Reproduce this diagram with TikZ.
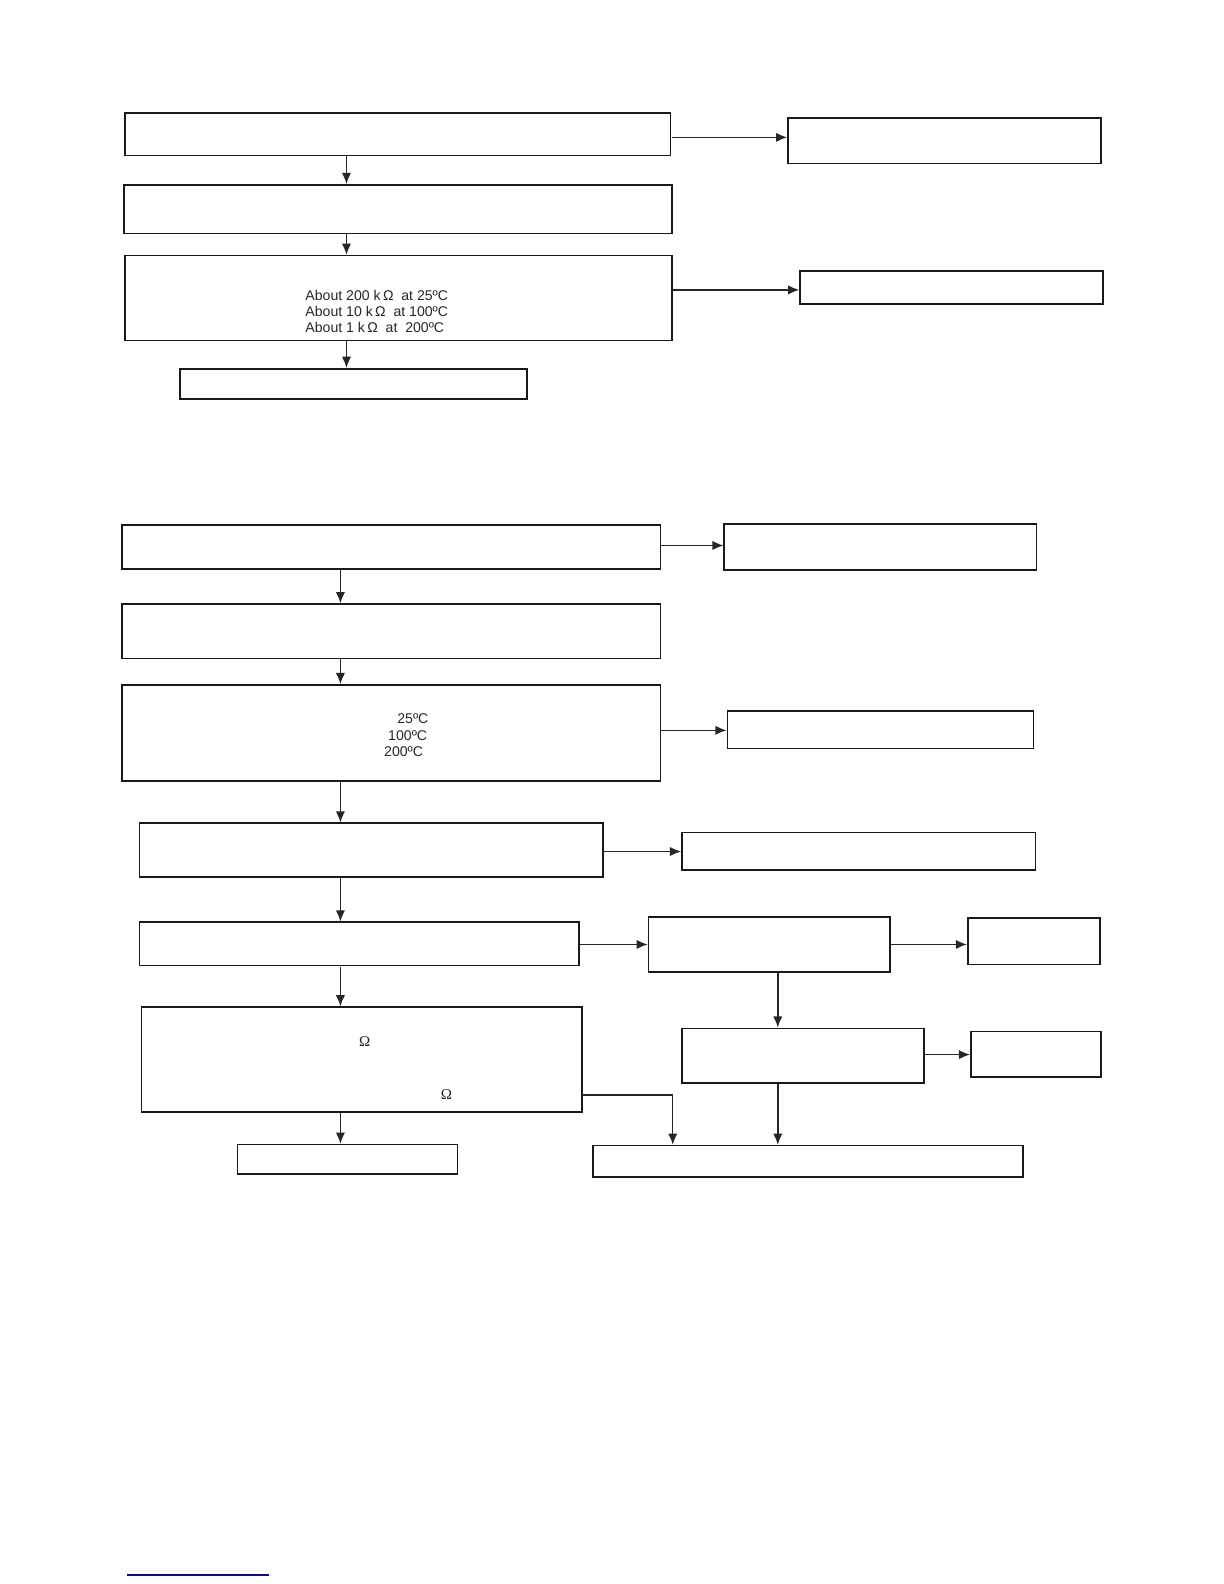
\documentclass[tikz,border=0pt]{standalone}
\usepackage{fontspec}
\setmainfont{Liberation Sans}
\newfontfamily\omegafont{Liberation Serif}
\usetikzlibrary{fit,arrows.meta}
\tikzset{
  box/.style={draw=black!90, line width=0.8pt, rectangle, inner sep=0pt},
  arr/.style={draw=black!85, line width=0.7pt, -{Latex[length=5.6pt,width=4.6pt]}},
  txt/.style={inner sep=0pt, anchor=west, font=\fontsize{7.05}{8}\selectfont, text=black!85},
  om/.style={inner sep=0pt, font=\omegafont\fontsize{7.5}{8}\selectfont, text=black!85},
}
\begin{document}
\begin{tikzpicture}[x=0.5pt,y=-0.5pt]
\useasboundingbox (0,0) rectangle (1224,1584);
\begin{scope}[scale=1.01]
% ---------- upper chart ----------
\node[box, fit={(124,112) (664,154)}] (B1) {};
\node[box, fit={(780,117) (1090,162)}] (R1) {};
\node[box, fit={(123,183) (665,231)}] (B2) {};
\node[box, fit={(124,253) (665,337)}] (B3) {};
\node[box, fit={(792,268) (1092,301)}] (R3) {};
\node[box, fit={(178,365) (522,395)}] (B4) {};
\node[txt] (t1) at (302,293) {About 200 k\,Ω\ \ at 25ºC};
\node[txt] (t2) at (302,308.5) {About 10 k\,Ω\ \ at 100ºC};
\node[txt] (t3) at (302,324) {About 1 k\,Ω\ \ at\ \ 200ºC};
\coordinate (ax) at (343,0);
\draw[arr] (B1.south -| ax) -- (B2.north -| ax);
\draw[arr] (B2.south -| ax) -- (B3.north -| ax);
\draw[arr] (B3.south -| ax) -- (B4.north -| ax);
\coordinate (y1) at (0,136);
\draw[arr] (B1.east |- y1) -- (R1.west |- y1);
\coordinate (y3) at (0,287);
\draw[arr] (B3.east |- y3) -- (R3.west |- y3);
% ---------- lower chart ----------
\node[box, fit={(121,520) (654,563)}] (C1) {};
\node[box, fit={(717,519) (1026,564)}] (RC1) {};
\node[box, fit={(121,598) (654,652)}] (C2) {};
\node[box, fit={(121,678) (654,773)}] (C3) {};
\node[box, fit={(720,704) (1023,741)}] (RC3) {};
\node[box, fit={(138,815) (597,868)}] (C4) {};
\node[box, fit={(675,824) (1025,861)}] (RC4) {};
\node[box, fit={(138,913) (573,956)}] (C5) {};
\node[box, fit={(642,908) (881,962)}] (D1) {};
\node[box, fit={(958,909) (1089,955)}] (E1) {};
\node[box, fit={(675,1018) (915,1072)}] (D2) {};
\node[box, fit={(961,1021) (1090,1066)}] (E2) {};
\node[box, fit={(140,997) (576,1101)}] (C6) {};
\node[box, fit={(235,1133) (453,1162)}] (C7) {};
\node[box, fit={(587,1134) (1013,1165)}] (F) {};
\node[txt] (c1) at (393,712) {25ºC};
\node[txt] (c2) at (384,728) {100ºC};
\node[txt] (c3) at (380,744) {200ºC};
\node[om] (o1) at (361,1031) {Ω};
\node[om] (o2) at (442,1084) {Ω};
\coordinate (bx) at (337,0);
\draw[arr] (C1.south -| bx) -- (C2.north -| bx);
\draw[arr] (C2.south -| bx) -- (C3.north -| bx);
\draw[arr] (C3.south -| bx) -- (C4.north -| bx);
\draw[arr] (C4.south -| bx) -- (C5.north -| bx);
\draw[arr] (C5.south -| bx) -- (C6.north -| bx);
\draw[arr] (C6.south -| bx) -- (C7.north -| bx);
\coordinate (z1) at (0,540);
\draw[arr] (C1.east |- z1) -- (RC1.west |- z1);
\coordinate (z3) at (0,723);
\draw[arr] (C3.east |- z3) -- (RC3.west |- z3);
\coordinate (z4) at (0,843);
\draw[arr] (C4.east |- z4) -- (RC4.west |- z4);
\coordinate (z5) at (0,935);
\draw[arr] (C5.east |- z5) -- (D1.west |- z5);
\draw[arr] (D1.east |- z5) -- (E1.west |- z5);
\coordinate (z6) at (0,1044);
\draw[arr] (D2.east |- z6) -- (E2.west |- z6);
\coordinate (dx) at (770,0);
\draw[arr] (D1.south -| dx) -- (D2.north -| dx);
\draw[arr] (D2.south -| dx) -- (F.north -| dx);
\coordinate (fy) at (0,1084);
\coordinate (fx) at (666,0);
\draw[arr] (C6.east |- fy) -| (F.north -| fx);
\end{scope}
% ---------- footer rule ----------
\draw[line width=0.55pt, color={rgb,255:red,10;green,10;blue,140}] (127,1575) -- (269,1575);
\end{tikzpicture}
\end{document}
